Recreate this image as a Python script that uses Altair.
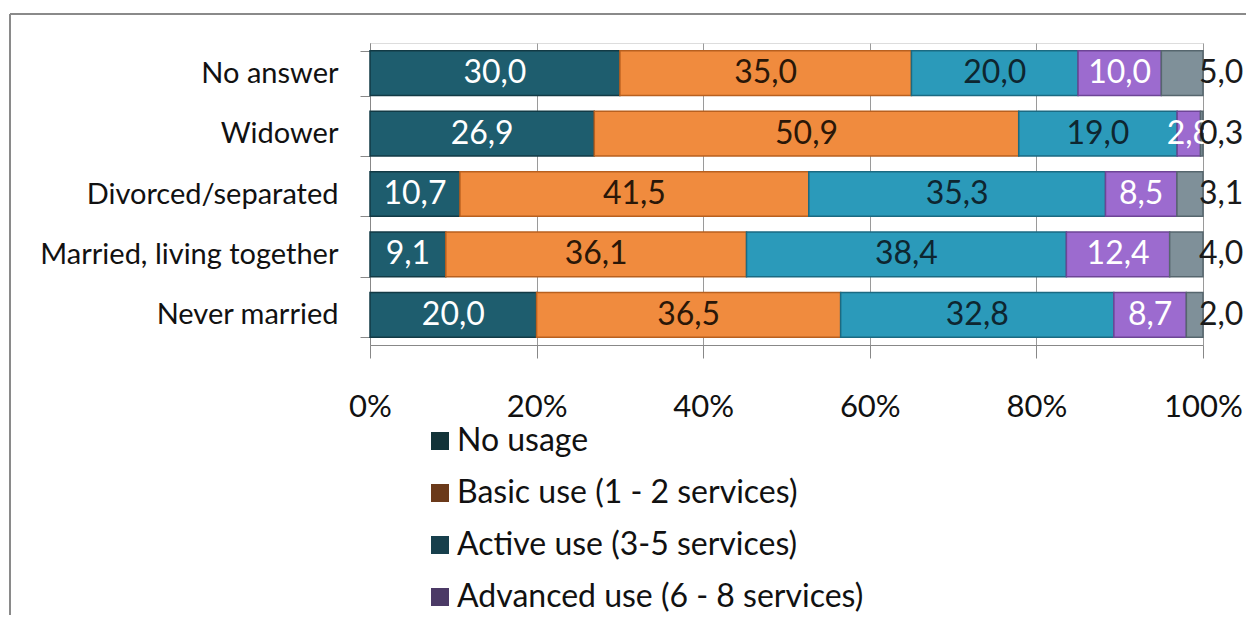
import altair as alt
import pandas as pd

categories = ["No answer", "Widower", "Divorced/separated", "Married, living together", "Never married"]
series = [
    "No usage",
    "Basic use (1 - 2 services)",
    "Active use (3-5 services)",
    "Advanced use (6 - 8 services)",
    "Full use (9 - 11 services)",
]
no_usage = [30.0, 26.9, 10.7, 9.1, 20.0]
basic_use = [35.0, 50.9, 41.5, 36.1, 36.5]
active_use = [20.0, 19.0, 35.3, 38.4, 32.8]
advanced_use = [10.0, 2.8, 8.5, 12.4, 8.7]
full_use = [5.0, 0.3, 3.1, 4.0, 2.0]
x_ticks = [0, 0.2, 0.4, 0.6, 0.8, 1.0]

# styles
bar_colors = ["#1e5d6e", "#f08b3e", "#2b9aba", "#9c6bcf", "#7f9099"]
edge_colors = ["#123a45", "#b8601f", "#1b6a82", "#6d4596", "#56666e"]
legend_colors = ["#123338", "#6b3a1a", "#173f4c", "#4b3a66", "#5a6a70"]
text_colors = ["#ffffff", "#2a1708", "#0e2630", "#ffffff", "#1a1a1a"]
FONT = "Lato"

values = [no_usage, basic_use, active_use, advanced_use, full_use]
rows = []
for ci, cat in enumerate(categories):
    total = sum(v[ci] for v in values)
    cum = 0.0
    for si, s in enumerate(series):
        v = values[si][ci]
        start = cum / total
        cum += v
        end = cum / total
        rows.append({
            "cat": cat, "series": s, "value": v, "order": si,
            "start": start, "end": end, "mid": (start + end) / 2,
            "label": f"{v:.1f}".replace(".", ","),
        })
df = pd.DataFrame(rows)

W, H = 833, 302
y_enc = alt.Y("cat:N", sort=categories,
              scale=alt.Scale(domain=categories, paddingInner=0.26, paddingOuter=0.13),
              axis=alt.Axis(title=None, labelFont=FONT, labelFontSize=29, labelColor="#111",
                            labelPadding=22, labelLimit=400, tickBand="extent", tickSize=10,
                            tickColor="#888", domainColor="#888", grid=False))
x_scale = alt.Scale(domain=[0, 1], nice=False)

base = alt.Chart(df)

bars = base.mark_bar(strokeWidth=1.5).encode(
    x=alt.X("start:Q", scale=x_scale,
            axis=alt.Axis(title=None, format="%", values=x_ticks, grid=True, gridColor="#9a9a9a",
                          gridWidth=1, tickSize=13, tickColor="#888", domainColor="#888",
                          labelFont=FONT, labelFontSize=31, labelColor="#111", labelPadding=34,
                          labelFlush=False)),
    x2="end:Q",
    y=y_enc,
    color=alt.Color("series:N", scale=alt.Scale(domain=series, range=bar_colors), legend=None),
    stroke=alt.Stroke("series:N", scale=alt.Scale(domain=series, range=edge_colors), legend=None),
    order=alt.Order("order:Q"),
)

legend_proxy = base.mark_square(opacity=0).encode(
    x=alt.X("mid:Q", scale=x_scale),
    y=alt.Y("cat:N", sort=categories),
    color=alt.Color("series:N", scale=alt.Scale(domain=series, range=legend_colors),
                    legend=alt.Legend(title=None, values=series[:4], orient="none",
                                      legendX=54, legendY=382, direction="vertical",
                                      symbolType="square", symbolSize=324, symbolOpacity=1,
                                      symbolStrokeWidth=0, labelFont=FONT, labelFontSize=32,
                                      labelColor="#111", labelOffset=1, rowPadding=20,
                                      labelLimit=600)),
)

inner_text = base.transform_filter(alt.datum.order < 4).mark_text(
    font=FONT, fontSize=32, align="center", baseline="middle"
).encode(
    x=alt.X("mid:Q", scale=x_scale),
    y=alt.Y("cat:N", sort=categories),
    text="label:N",
    color=alt.Color("series:N", scale=alt.Scale(domain=series, range=text_colors), legend=None),
)

outer_text = base.transform_filter(alt.datum.order == 4).mark_text(
    font=FONT, fontSize=32, align="left", baseline="middle", dx=-4
).encode(
    x=alt.X("end:Q", scale=x_scale),
    y=alt.Y("cat:N", sort=categories),
    text="label:N",
    color=alt.value("#1a1a1a"),
)

frame_df = pd.DataFrame({"k": [0]})
frame_left = alt.Chart(frame_df).mark_rule(color="#8a8a8a", strokeWidth=2).encode(
    x=alt.value(-360), y=alt.value(-29), y2=alt.value(H + 272))
frame_top = alt.Chart(frame_df).mark_rule(color="#8a8a8a", strokeWidth=2).encode(
    x=alt.value(-360), x2=alt.value(W + 50), y=alt.value(-29))

chart = alt.layer(bars, legend_proxy, inner_text, outer_text, frame_left, frame_top).resolve_scale(
    color="independent", stroke="independent"
).properties(
    width=W, height=H,
    padding={"left": 362, "top": 35, "right": 43, "bottom": 270},
    autosize=alt.AutoSizeParams(type="none"),
).configure_view(stroke=None).configure(background="white")

chart.save("out.html", embed_options={"renderer": "svg", "actions": False})
